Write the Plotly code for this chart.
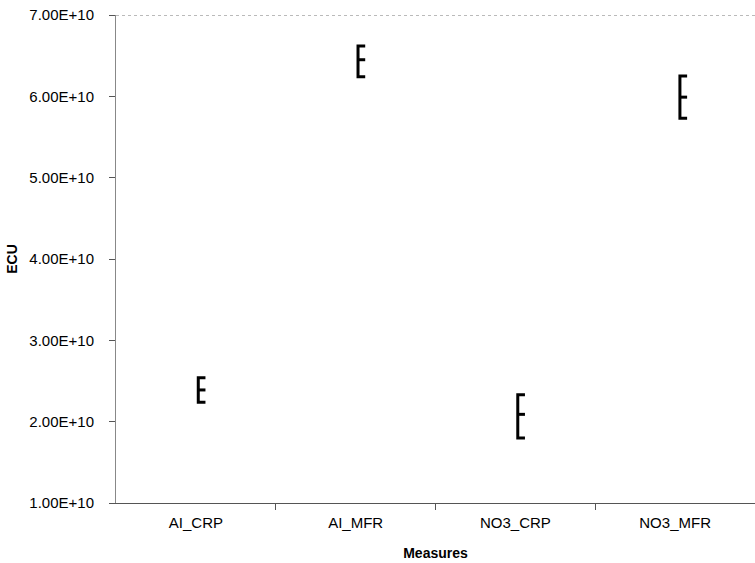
import plotly.graph_objects as go

categories = ["AI_CRP", "AI_MFR", "NO3_CRP", "NO3_MFR"]
high_vals = [2.54e10, 6.62e10, 2.33e10, 6.25e10]
mid_vals = [2.39e10, 6.45e10, 2.09e10, 5.99e10]
low_vals = [2.24e10, 6.24e10, 1.80e10, 5.73e10]
y_tick_vals = [1e10, 2e10, 3e10, 4e10, 5e10, 6e10, 7e10]
y_tick_text = ["1.00E+10", "2.00E+10", "3.00E+10", "4.00E+10", "5.00E+10", "6.00E+10", "7.00E+10"]

TICK_W = 0.045
OFF = 0.015

xs, ys = [], []
for i, (h, m, l) in enumerate(zip(high_vals, mid_vals, low_vals)):
    x0 = i + OFF + (0.015 if i == 3 else 0)
    xs += [x0 + TICK_W, x0, x0, x0 + TICK_W, None, x0, x0 + TICK_W, None]
    ys += [h, h, l, l, None, m, m, None]

fig = go.Figure()
fig.add_trace(go.Scatter(x=xs, y=ys, mode="lines",
                         line=dict(color="black", width=3),
                         hoverinfo="skip", showlegend=False))
fig.add_trace(go.Scatter(x=[0, 3], y=[None, None], xaxis="x2", mode="markers",
                         showlegend=False, hoverinfo="skip"))

font = dict(family="Liberation Sans, Arial, sans-serif", size=15, color="black")

fig.update_layout(
    width=755, height=563,
    margin=dict(l=116, r=0, t=15, b=60, autoexpand=False),
    paper_bgcolor="white", plot_bgcolor="white",
    font=font,
    showlegend=False,
    xaxis=dict(range=[-0.5, 3.5], tickvals=[0.5, 1.5, 2.5], showticklabels=False,
               ticks="outside", ticklen=6, tickcolor="#555", showgrid=False,
               showline=True, linecolor="#555", linewidth=1, zeroline=False,
               automargin=False),
    xaxis2=dict(range=[-0.5, 3.5], overlaying="x", side="bottom",
                tickvals=[0, 1, 2, 3], ticktext=categories, ticks="",
                showgrid=False, showline=False, zeroline=False,
                ticklabelstandoff=9, automargin=False,
                title=dict(text="<b>Measures</b>", font=dict(size=14), standoff=18)),
    yaxis=dict(range=[1e10, 7e10], tickvals=y_tick_vals, ticktext=y_tick_text,
               ticks="outside", ticklen=6, tickcolor="#555", showgrid=False,
               showline=True, linecolor="#888", linewidth=1, zeroline=False,
               ticklabelstandoff=12, automargin=False,
               title=dict(text="<b>ECU</b>", font=dict(size=14), standoff=8)),
    shapes=[dict(type="line", xref="paper", yref="y", x0=0, x1=1, y0=7e10, y1=7e10,
                 line=dict(color="#777", width=1, dash="dot"))],
)

fig.write_html("out.html", config={"displayModeBar": False},
               post_script="document.body.style.margin='0';document.body.style.padding='0';")
